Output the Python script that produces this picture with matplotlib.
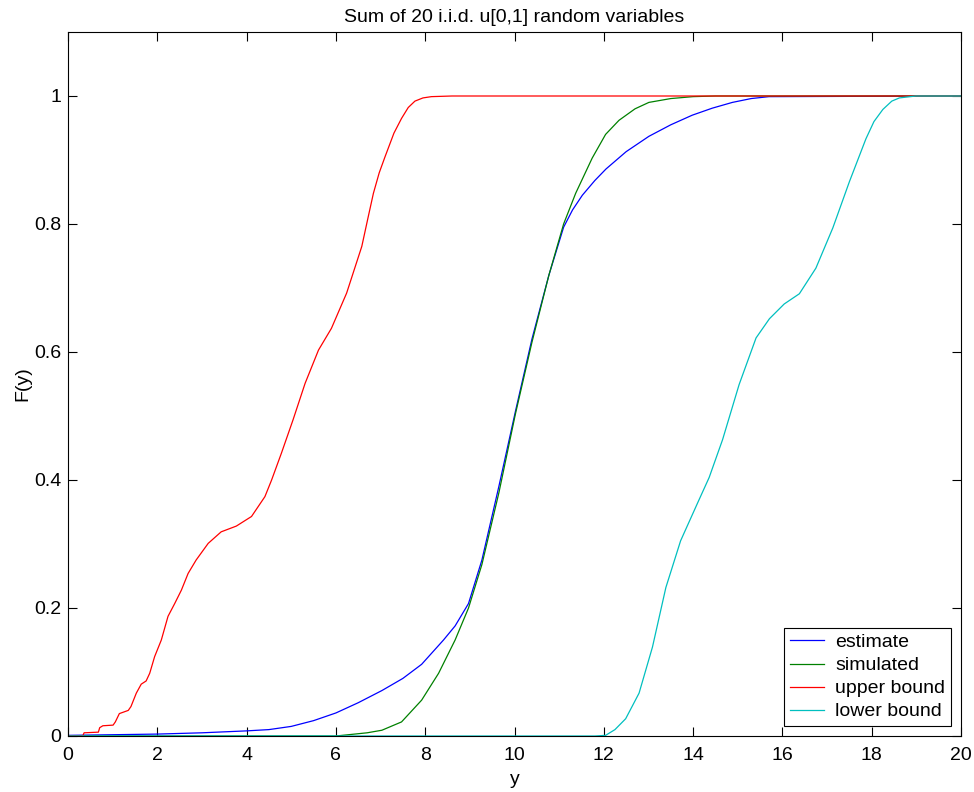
import matplotlib
matplotlib.use("Agg")
import matplotlib.pyplot as plt

# CDF curves
x_est = [0, 1, 2, 3, 4, 4.5, 5.0, 5.5, 6.0, 6.5, 7.03, 7.5, 7.92, 8.41,
         8.67, 8.97, 9.27, 9.65, 10.02, 10.39, 10.77, 11.10, 11.3, 11.52,
         11.8, 12.05, 12.5, 13.01, 13.5, 13.98, 14.43, 14.88, 15.3, 15.7, 20]
F_est = [0.001, 0.002, 0.003, 0.005, 0.008, 0.010, 0.015, 0.024, 0.036,
         0.052, 0.071, 0.09, 0.112, 0.15, 0.172, 0.207, 0.275, 0.39, 0.507,
         0.62, 0.72, 0.795, 0.822, 0.845, 0.868, 0.886, 0.913, 0.937, 0.955,
         0.97, 0.981, 0.99, 0.996, 0.999, 1.0]

x_sim = [0, 6.0, 6.28, 6.7, 7.03, 7.47, 7.92, 8.3, 8.67, 8.97, 9.27, 9.65,
         10.02, 10.39, 10.77, 11.10, 11.37, 11.74, 12.04, 12.34, 12.7, 13.01,
         13.5, 14.0, 14.5, 20]
F_sim = [0, 0, 0.002, 0.005, 0.009, 0.022, 0.056, 0.098, 0.15, 0.2, 0.268,
         0.38, 0.503, 0.615, 0.72, 0.80, 0.848, 0.903, 0.94, 0.962, 0.98, 0.99,
         0.996, 0.999, 1.0, 1.0]

x_up = [0, 0.33, 0.36, 0.68, 0.71, 0.78, 1.01, 1.06, 1.15, 1.35, 1.41, 1.53,
        1.64, 1.75, 1.83, 1.94, 2.09, 2.24, 2.39, 2.54, 2.69, 2.87, 3.14, 3.43,
        3.77, 4.11, 4.41, 4.56, 4.78, 5.04, 5.31, 5.61, 5.90, 6.24, 6.58, 6.72,
        6.84, 6.97, 7.10, 7.3, 7.47, 7.62, 7.77, 7.95, 8.14, 8.6, 20]
F_up = [0, 0, 0.005, 0.006, 0.013, 0.016, 0.017, 0.022, 0.035, 0.04, 0.046,
        0.067, 0.081, 0.086, 0.098, 0.124, 0.15, 0.187, 0.207, 0.228, 0.254,
        0.275, 0.301, 0.319, 0.328, 0.343, 0.374, 0.40, 0.442, 0.494, 0.551,
        0.603, 0.637, 0.692, 0.765, 0.81, 0.848, 0.88, 0.905, 0.942, 0.965,
        0.982, 0.992, 0.997, 0.999, 1.0, 1.0]

x_lo = [0, 11.8, 12.04, 12.25, 12.49, 12.79, 13.09, 13.39, 13.72, 14.10,
        14.36, 14.66, 15.03, 15.41, 15.71, 16.04, 16.38, 16.75, 17.13, 17.50,
        17.87, 18.05, 18.25, 18.45, 18.62, 18.99, 20]
F_lo = [0, 0, 0.001, 0.01, 0.027, 0.067, 0.139, 0.232, 0.305, 0.364, 0.404,
        0.463, 0.549, 0.622, 0.652, 0.675, 0.691, 0.731, 0.794, 0.866, 0.933,
        0.96, 0.979, 0.992, 0.997, 1.0, 1.0]

y_ticks = [0, 0.2, 0.4, 0.6, 0.8, 1]
x_ticks = list(range(0, 21, 2))

plt.rcParams["font.family"] = ["Liberation Sans", "DejaVu Sans"]
plt.rcParams["font.size"] = 14

fig = plt.figure(figsize=(9.74, 7.92), dpi=100)
ax = fig.add_axes([68 / 974, 56 / 792, 893 / 974, 704 / 792])

ax.plot(x_est, F_est, color="#0000ff", lw=0.9, label="estimate")
ax.plot(x_sim, F_sim, color="#008000", lw=0.9, label="simulated")
ax.plot(x_up, F_up, color="#ff0000", lw=0.9, label="upper bound")
ax.plot(x_lo, F_lo, color="#00bfbf", lw=0.9, label="lower bound")

ax.set_xlim(0, 20)
ax.set_ylim(0, 1.1)
ax.set_xticks(x_ticks)
ax.set_yticks(y_ticks)
ax.set_yticklabels(["%g" % v for v in y_ticks])
ax.tick_params(direction="in", length=6.5, width=0.8, top=True, right=True, pad=5)
ax.tick_params(axis="x", pad=8)
for s in ax.spines.values():
    s.set_linewidth(0.8)

ax.set_title("Sum of 20 i.i.d. u[0,1] random variables", fontsize=14, pad=7)
ax.set_xlabel("y", labelpad=5)
ax.set_ylabel("F(y)", labelpad=2)

leg = ax.legend(loc="lower right", fancybox=False, edgecolor="black",
                framealpha=1, borderaxespad=0.5, handlelength=1.75,
                handletextpad=0.6, labelspacing=0.28, borderpad=0.3)
leg.get_frame().set_linewidth(0.8)

fig.savefig("out.png", dpi=100)
